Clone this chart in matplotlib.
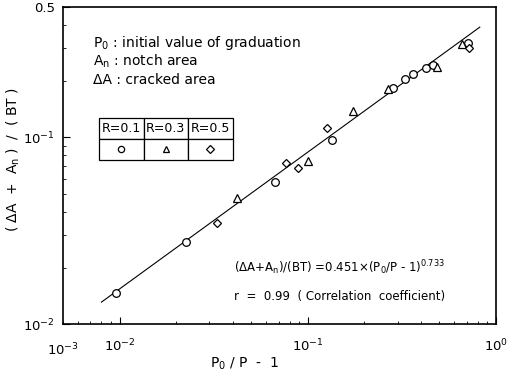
import numpy as np
import matplotlib.pyplot as plt

plt.rcParams['font.family'] = ['DejaVu Sans']
plt.rcParams['mathtext.default'] = 'regular'

# ---- data ----
# R = 0.1 (circles)
r01_x = [0.00952, 0.02245, 0.0673, 0.1337, 0.2843, 0.328, 0.3605, 0.4227, 0.4607, 0.7097]
r01_y = [0.01467, 0.0274, 0.0578, 0.0964, 0.1845, 0.2052, 0.2198, 0.2365, 0.2454, 0.3214]
# R = 0.3 (triangles)
r03_x = [0.0418, 0.1004, 0.1741, 0.2675, 0.4873, 0.6636]
r03_y = [0.0472, 0.0745, 0.1387, 0.1828, 0.2385, 0.316]
# R = 0.5 (diamonds)
r05_x = [0.0329, 0.0761, 0.0888, 0.1267, 0.7143]
r05_y = [0.0346, 0.0730, 0.0687, 0.1121, 0.301]

# fitted line (dA+An)/(BT) = 0.451 * (P0/P - 1)^0.733
coef_a = 0.451
coef_b = 0.733
fit_range = [0.008, 0.82]

legend_labels = ["R=0.1", "R=0.3", "R=0.5"]
legend_markers = ["o", "^", "D"]

fig = plt.figure(figsize=(5.1, 3.76), dpi=100)
ax = fig.add_axes([63 / 510, 1 - 324 / 376, 433 / 510, 317 / 376])
ax.set_xscale('log')
ax.set_yscale('log')
ax.set_xlim(0.005, 1.0)
ax.set_ylim(0.01, 0.5)

xf = np.geomspace(fit_range[0], fit_range[1], 50)
ax.plot(xf, coef_a * xf ** coef_b, '-k', lw=0.8)

mk = dict(mfc='white', mec='black', mew=0.9, ls='none', zorder=3)
ax.plot(r01_x, r01_y, 'o', ms=5.5, **mk)
ax.plot(r03_x, r03_y, '^', ms=6, **mk)
ax.plot(r05_x, r05_y, 'D', ms=4.5, **mk)

# axes / ticks
ax.spines[:].set_linewidth(1.2)
ax.tick_params(which='both', direction='in', top=False, right=False, labelsize=9.5)
ax.tick_params(which='major', length=5)
ax.tick_params(which='minor', length=2.5)
ax.set_xticks([0.01, 0.1, 1.0])
ax.set_xticklabels(["$10^{-2}$", "$10^{-1}$", "$10^{0}$"])
ax.set_yticks([0.01, 0.1, 0.5])
ax.set_yticklabels(["$10^{-2}$", "$10^{-1}$", "0.5"])
ax.tick_params(axis='x', pad=10)
ax.tick_params(axis='y', pad=6)
# corner label as printed in the original figure
ax.text(0.0, -0.055, "$10^{-3}$", transform=ax.transAxes, ha='center', va='top', fontsize=9.5)

ax.set_xlabel("P$_0$ / P  -  1", fontsize=10)
ax.xaxis.set_label_coords(0.42, -0.1)
ax.set_ylabel("( ΔA  +  A$_n$ )  /  ( BT )", fontsize=10)
ax.yaxis.set_label_coords(-0.095, 0.52)

# notes
fs = 10
ax.text(0.069, 0.886, "P$_0$ : initial value of graduation", transform=ax.transAxes, fontsize=fs, va='center')
ax.text(0.069, 0.83, "A$_n$ : notch area", transform=ax.transAxes, fontsize=fs, va='center')
ax.text(0.069, 0.77, "ΔA : cracked area", transform=ax.transAxes, fontsize=fs, va='center')
ax.text(0.395, 0.177, "(ΔA+A$_n$)/(BT) =0.451×(P$_0$/P - 1)$^{0.733}$", transform=ax.transAxes, fontsize=8.5, va='center')
ax.text(0.395, 0.088, "r  =  0.99  ( Correlation  coefficient)", transform=ax.transAxes, fontsize=8.5, va='center')

# legend table
tab = ax.table(cellText=[legend_labels, ["", "", ""]], cellLoc='center',
               bbox=[0.083, 0.5174, 0.309, 0.1316])
tab.auto_set_font_size(False)
tab.set_fontsize(9)
for cell in tab.get_celld().values():
    cell.set_linewidth(0.9)
for i, m in enumerate(legend_markers):
    cx = 0.083 + 0.309 * (i + 0.5) / 3
    ax.plot(cx, 0.552, m, ms=4.5 if m != 'D' else 3.8, transform=ax.transAxes, clip_on=False, **mk)

fig.savefig("out.png", dpi=100)
